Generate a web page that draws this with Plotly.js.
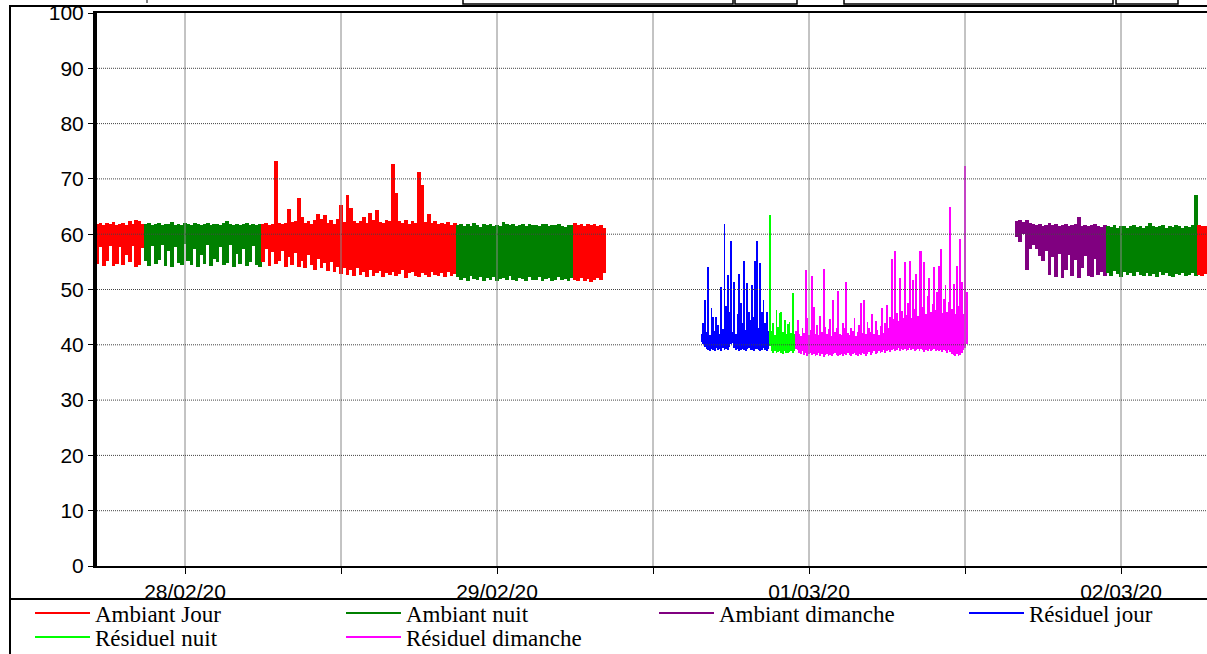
<!DOCTYPE html>
<html><head><meta charset="utf-8">
<script src="https://cdn.plot.ly/plotly-3.0.1.min.js"></script>
<style>html,body{margin:0;padding:0;background:#fff;}#chart{width:1207px;height:654px;}</style>
</head><body><div id="chart"></div>
<script>
// ---- axis ticks ----
const tickDates = ['2020-02-28 00:00','2020-02-28 12:00','2020-02-29 00:00','2020-02-29 12:00','2020-03-01 00:00','2020-03-01 12:00','2020-03-02 00:00'];
const tickLabels = ['28/02/20','','29/02/20','','01/03/20','','02/03/20'];
const yTicks = [0,10,20,30,40,50,60,70,80,90,100];
const xRange = ['2020-02-27 17:13:51','2020-03-02 06:36:55'];

// ---- series ----
const seriesNames = ['Ambiant Jour','Ambiant nuit','Ambiant dimanche','Résiduel jour','Résiduel nuit','Résiduel dimanche'];
const seriesColors = ['#ff0000','#008000','#800080','#0000ff','#00ff00','#ff00ff'];

// Ambiant Jour, 27/02 evening (15-min max / min, dB)
const ambJour1Start = '2020-02-27 17:15';
const ambJour1Max = [61.9,62.1,61.6,62.0,61.8,62.2,61.7,61.9,62.0,61.6,62.3,61.8,62.6,62.4,61.9];
const ambJour1Min = [54.6,57.7,54.3,55.1,57.9,54.2,54.7,57.6,54.4,56.2,54.9,57.8,54.1,54.5,57.5];
// Ambiant nuit, 27-28/02
const ambNuit1Start = '2020-02-27 21:00';
const ambNuit1Max = [61.9,62.1,61.7,61.8,62.0,61.6,61.9,61.8,62.2,61.7,61.9,61.6,62.0,61.8,61.7,62.1,61.9,61.6,61.8,62.0,61.7,61.9,61.8,61.6,62.0,62.3,61.8,61.7,61.9,61.6,61.8,62.0,61.7,61.9,61.6,61.8];
const ambNuit1Min = [55.2,54.2,57.8,54.6,55.4,58.1,54.3,56.9,54.0,57.6,54.8,54.4,58.2,55.1,54.5,57.4,54.1,56.3,54.7,58.0,54.2,55.6,54.9,57.7,54.4,54.8,58.1,54.0,56.5,54.6,57.3,54.2,55.0,57.9,54.5,54.1];
// Ambiant Jour, 28/02
const ambJour2Start = '2020-02-28 06:00';
const ambJour2Max = [61.8,62.0,61.7,61.9,73.3,62.1,61.8,62.0,64.5,62.2,62.4,66.5,63.2,62.0,62.3,61.9,62.6,63.6,62.8,63.4,62.1,62.5,61.9,62.7,65.3,62.2,67.1,64.8,62.4,62.0,62.3,63.2,62.1,63.9,62.5,64.3,62.2,62.0,62.6,62.3,72.7,67.5,62.4,62.1,62.5,61.9,62.3,62.0,71.2,68.9,62.2,63.7,62.0,62.4,61.8,62.1,61.9,62.2,61.7,62.0];
const ambJour2Min = [55.0,57.4,54.3,56.8,54.6,55.2,57.0,54.1,55.8,54.5,56.6,54.0,55.1,53.8,56.2,54.4,53.6,55.5,53.9,54.8,53.4,55.0,53.2,54.1,52.8,53.9,52.6,53.5,52.4,53.8,52.7,53.1,52.3,53.6,52.5,52.9,53.3,52.2,53.0,52.6,53.2,52.4,52.8,53.5,52.1,52.9,53.1,52.5,52.3,53.0,52.6,52.2,53.2,52.7,52.4,52.9,52.3,53.1,52.5,52.8];
// Ambiant nuit, 28-29/02
const ambNuit2Start = '2020-02-28 21:00';
const ambNuit2Max = [61.6,61.9,61.4,61.8,61.5,62.0,61.7,61.3,61.8,61.6,61.9,61.5,61.7,61.4,62.2,61.8,61.6,61.9,61.5,61.7,61.8,61.4,61.9,61.6,61.7,61.5,61.8,61.9,61.4,61.7,61.6,61.8,61.5,61.3,61.7,61.6];
const ambNuit2Min = [52.3,51.8,52.1,51.6,52.4,51.9,51.7,52.2,51.5,52.0,51.8,52.3,51.6,51.9,52.1,51.7,52.4,51.8,51.5,52.0,51.9,51.6,52.2,51.8,51.7,52.3,51.5,51.9,52.0,51.6,51.8,52.2,51.7,51.9,51.5,52.1];
// Ambiant Jour, 29/02 morning
const ambJour3Start = '2020-02-29 06:00';
const ambJour3Max = [62.0,61.7,61.9,61.5,61.8,61.6,61.9,61.4,61.7,61.2];
const ambJour3Min = [51.8,51.5,52.0,51.6,51.9,51.4,51.7,52.0,51.8,53.0];
// Résiduel jour, 29/02 (7.5-min max / min)
const resJourStart = '2020-02-29 15:45';
const resJourMax = [42.0,44.0,48.1,42.3,54.1,41.8,46.6,45.0,42.5,45.1,43.5,41.9,50.5,42.8,61.9,47.0,52.6,46.0,58.8,42.4,51.4,42.0,45.5,52.8,47.5,44.0,55.2,42.6,51.1,46.0,44.5,50.8,45.0,55.2,58.7,43.0,54.8,46.0,48.1,44.0,46.0,42.5];
const resJourMin = [40.5,40.2,39.6,39.2,39.0,38.9,39.3,39.1,38.8,39.4,39.0,39.2,38.9,39.5,39.1,39.3,39.0,39.6,40.1,40.3,39.4,39.0,39.2,38.9,39.1,39.3,39.0,38.8,39.2,39.4,39.0,39.1,38.9,39.3,39.2,39.0,38.8,39.1,39.4,39.0,38.9,39.2];
// Résiduel nuit, 29/02
const resNuitStart = '2020-02-29 21:00';
const resNuitMax = [63.4,42.5,44.0,41.8,46.3,43.2,45.7,46.0,42.4,44.5,41.9,43.8,44.2,42.2,49.4,42.0];
const resNuitMin = [39.8,38.9,38.6,38.8,38.5,38.7,38.9,38.6,38.4,38.8,38.6,38.5,38.7,38.9,38.6,38.8];
// Résiduel dimanche, 29/02-01/03
const resDimStart = '2020-02-29 23:00';
const resDimMax = [42.5,44.5,42.0,41.6,43.0,42.2,53.5,44.8,41.8,42.6,52.4,46.9,42.0,43.5,41.7,45.2,42.3,53.7,43.3,41.9,42.8,44.6,41.6,48.1,42.4,43.1,49.8,42.0,41.7,44.0,43.0,51.4,42.2,41.8,43.0,42.5,44.8,41.6,42.3,43.6,47.5,42.1,48.1,41.9,44.2,43.0,42.4,45.5,42.0,44.3,42.6,41.8,43.4,46.6,42.2,44.0,47.2,43.1,45.0,55.5,44.6,56.9,45.8,44.3,52.1,46.2,44.8,55.0,45.4,47.6,55.2,44.9,51.7,46.5,52.8,45.2,57.0,57.0,46.8,55.0,45.5,48.9,52.1,45.9,47.4,54.0,46.3,49.5,54.2,57.3,45.8,48.2,50.9,46.0,47.8,65.0,46.4,51.0,45.6,54.2,47.0,59.1,51.4,45.5,72.4,49.6];
const resDimMin = [39.3,39.0,38.6,38.4,38.8,38.2,38.5,38.0,38.3,38.6,38.1,38.4,37.9,38.2,38.5,38.0,38.3,37.8,38.1,38.4,38.0,38.2,37.9,38.3,38.6,38.1,37.9,38.2,38.4,38.0,38.3,38.1,38.5,38.2,37.9,38.3,38.6,38.2,38.0,38.4,38.1,38.5,38.3,38.0,38.4,38.7,38.2,38.5,38.8,38.4,38.6,38.9,38.5,38.7,39.0,38.6,38.8,39.1,38.7,39.0,39.2,38.8,39.1,39.4,38.9,39.2,39.0,39.3,38.9,39.1,39.4,39.0,39.2,38.8,39.1,39.3,38.9,39.2,39.0,38.7,39.1,38.9,39.2,38.8,39.0,39.3,38.9,39.1,38.8,39.0,38.7,39.0,38.8,38.6,39.0,38.7,38.4,38.2,38.0,38.3,37.9,38.2,38.5,39.0,39.4,40.2];
// Ambiant dimanche, 01/03
const ambDimStart = '2020-03-01 16:00';
const ambDimMax = [62.4,62.6,62.2,62.5,62.0,61.8,61.6,61.9,61.5,61.7,62.0,61.6,61.8,61.4,61.7,61.9,61.5,61.6,61.8,63.1,61.5,61.7,61.4,61.6,61.8,61.5,61.3,61.6];
const ambDimMin = [59.5,58.6,60.0,53.6,57.3,58.0,57.4,56.1,55.2,57.0,52.7,55.8,52.3,56.5,52.0,53.5,56.2,52.4,55.4,52.1,53.8,56.0,52.5,52.2,55.6,52.6,53.2,52.4];
// Ambiant nuit, 01-02/03
const ambNuit3Start = '2020-03-01 23:00';
const ambNuit3Max = [61.5,61.3,61.6,61.2,61.4,61.5,61.1,61.4,61.6,61.3,61.5,61.2,61.4,62.1,61.5,61.3,61.4,61.6,61.2,61.5,61.3,61.7,61.4,61.2,61.5,61.3,61.6,67.1];
const ambNuit3Min = [53.0,52.5,53.4,52.8,52.3,53.1,52.6,52.9,52.4,53.2,52.7,52.5,53.0,52.4,52.8,52.2,53.1,52.6,52.9,52.5,52.3,52.8,52.6,53.0,52.4,52.7,52.9,52.5];
// Ambiant Jour, 02/03
const ambJour4Start = '2020-03-02 06:00';
const ambJour4Max = [61.6,61.4,61.5,61.3];
const ambJour4Min = [52.6,52.4,52.8,52.5];

const segments = [
  {s:0, start:ambJour1Start, step:15, max:ambJour1Max, min:ambJour1Min},
  {s:1, start:ambNuit1Start, step:15, max:ambNuit1Max, min:ambNuit1Min},
  {s:0, start:ambJour2Start, step:15, max:ambJour2Max, min:ambJour2Min},
  {s:1, start:ambNuit2Start, step:15, max:ambNuit2Max, min:ambNuit2Min},
  {s:0, start:ambJour3Start, step:15, max:ambJour3Max, min:ambJour3Min},
  {s:3, start:resJourStart, step:7.5, max:resJourMax, min:resJourMin},
  {s:4, start:resNuitStart, step:7.5, max:resNuitMax, min:resNuitMin},
  {s:5, start:resDimStart, step:7.5, max:resDimMax, min:resDimMin},
  {s:2, start:ambDimStart, step:15, max:ambDimMax, min:ambDimMin},
  {s:1, start:ambNuit3Start, step:15, max:ambNuit3Max, min:ambNuit3Min},
  {s:0, start:ambJour4Start, step:15, max:ambJour4Max, min:ambJour4Min}
];

function timeAxis(start, stepMin, n) {
  const [d, t] = start.split(' ');
  const [Y, M, D] = d.split('-').map(Number);
  const [h, m] = t.split(':').map(Number);
  const t0 = Date.UTC(Y, M - 1, D, h, m);
  const out = [];
  for (let i = 0; i < n; i++) out.push(new Date(t0 + i * stepMin * 60000).toISOString().replace('T', ' ').slice(0, 19));
  return out;
}

const traces = [];
segments.forEach(seg => {
  const n = Math.min(seg.max.length, seg.min.length);
  traces.push({
    type: 'bar',
    x: timeAxis(seg.start, seg.step, n),
    base: seg.min.slice(0, n),
    y: seg.max.slice(0, n).map((v, i) => v - seg.min[i]),
    width: seg.step * 60000 * 1.12,
    marker: {color: seriesColors[seg.s], line: {width: 0}},
    showlegend: false,
    hoverinfo: 'skip'
  });
});

// legend entries, one legend box per series, placed in the 4-column grid of the original
const legendIds = ['legend', 'legend2', 'legend3', 'legend4', 'legend5', 'legend6'];
seriesNames.forEach((name, k) => {
  traces.push({
    type: 'scatter', mode: 'lines', x: [null], y: [null], name: name,
    line: {color: seriesColors[k], width: 2}, legend: legendIds[k], hoverinfo: 'skip'
  });
});

// pixel helpers for decoration placement
const W = 1207, H = 654;
const L = 97, R = 1207, T = 13, B = 566;
const px2x = p => (p - L) / (R - L);
const py2y = p => (B - p) / (B - T);
const cx = p => p / W;
const cy = p => 1 - p / H;

const shapes = [];
tickDates.forEach(d => shapes.push({type: 'line', xref: 'x', yref: 'y', x0: d, x1: d, y0: 0, y1: 100,
  line: {color: '#888', width: 1}, layer: 'above'}));
yTicks.filter(v => v > 0 && v < 100).forEach(v => shapes.push({type: 'line', xref: 'paper', yref: 'y', x0: 0, x1: 1, y0: v, y1: v,
  line: {color: '#444', width: 1, dash: '1px,1px'}, layer: 'above'}));
const frame = {color: '#000', width: 2};
shapes.push({type: 'line', xref: 'paper', yref: 'paper', x0: px2x(10), x1: px2x(10), y0: py2y(5), y1: py2y(660), line: frame});
shapes.push({type: 'line', xref: 'paper', yref: 'paper', x0: px2x(10), x1: px2x(1210), y0: py2y(6), y1: py2y(6), line: frame});
shapes.push({type: 'line', xref: 'paper', yref: 'paper', x0: px2x(10), x1: px2x(1210), y0: py2y(599), y1: py2y(599), line: frame});
[[463, 733], [735, 797], [844, 1113], [1116, 1178]].forEach(b => shapes.push({type: 'rect', xref: 'paper', yref: 'paper',
  x0: px2x(b[0]), x1: px2x(b[1]), y0: py2y(-6), y1: py2y(4), line: {color: '#000', width: 1.5}}));
shapes.push({type: 'line', xref: 'paper', yref: 'paper', x0: px2x(147), x1: px2x(147), y0: py2y(-2), y1: py2y(3), line: {color: '#000', width: 1}});

const legFont = {family: 'Liberation Serif, Times New Roman, serif', size: 23, color: '#000'};
const legendPos = [[30, 613], [341, 613], [654, 613], [964, 613], [30, 637], [341, 637]];
const tickFont = {family: 'Liberation Sans, Arial, sans-serif', size: 21, color: '#000'};

const layout = {
  width: W, height: H,
  margin: {l: L, r: 0, t: T, b: H - B, pad: 0, autoexpand: false},
  paper_bgcolor: '#fff', plot_bgcolor: '#fff',
  barmode: 'overlay', bargap: 0,
  xaxis: {type: 'date', range: xRange, tickmode: 'array', tickvals: tickDates, ticktext: tickLabels,
    showgrid: false, zeroline: false, showline: true, linecolor: '#000', linewidth: 2, mirror: true,
    ticks: 'outside', ticklen: 6, tickwidth: 1, tickcolor: '#000', tickfont: tickFont, fixedrange: true},
  yaxis: {range: [0, 100], tickmode: 'array', tickvals: yTicks, ticktext: yTicks.map(String),
    showgrid: false, zeroline: false, showline: true, linecolor: '#000', linewidth: 4,
    ticks: 'outside', ticklen: 5, tickwidth: 1, tickcolor: '#000', tickfont: tickFont, fixedrange: true},
  shapes: shapes,
  showlegend: true
};
legendIds.forEach((id, k) => {
  layout[id] = {orientation: 'v', xref: 'container', yref: 'container', xanchor: 'left', yanchor: 'middle',
    x: cx(legendPos[k][0]), y: cy(legendPos[k][1]), font: legFont,
    bgcolor: 'rgba(0,0,0,0)', borderwidth: 0, itemwidth: 55, tracegroupgap: 0};
});

Plotly.newPlot('chart', traces, layout, {displayModeBar: false, staticPlot: true});
</script>
</body></html>
